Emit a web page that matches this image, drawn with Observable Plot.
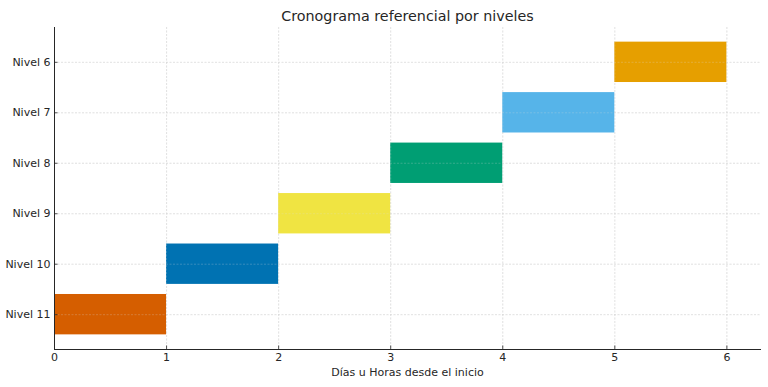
<!DOCTYPE html>
<html>
<head>
<meta charset="utf-8">
<script src="https://cdn.jsdelivr.net/npm/d3@7"></script>
<script src="https://cdn.jsdelivr.net/npm/@observablehq/plot@0.6"></script>
<style>
  html, body { margin: 0; padding: 0; background: #fff; }
  svg { font-family: "DejaVu Sans", sans-serif; }
</style>
</head>
<body>
<div id="chart"></div>
<script>
const title = "Cronograma referencial por niveles";
const xLabel = "Días u Horas desde el inicio";
const levels = ["Nivel 11", "Nivel 10", "Nivel 9", "Nivel 8", "Nivel 7", "Nivel 6"];
const starts = [0, 1, 2, 3, 4, 5];
const durations = [1, 1, 1, 1, 1, 1];
const colors = ["#D55E00", "#0072B2", "#F0E442", "#009E73", "#56B4E9", "#E69F00"];
const xTicks = [0, 1, 2, 3, 4, 5, 6];

const data = levels.map((l, i) => ({level: l, start: starts[i], end: starts[i] + durations[i], color: colors[i]}));
const yOrder = levels.slice().reverse();

const W = 768, H = 387, mL = 54, mR = 8, mT = 27, mB = 38;
const plotW = W - mL - mR, plotH = H - mT - mB;

const gridStyle = {stroke: "#c8c8c8", strokeOpacity: 0.7, strokeDasharray: "2,1.5", strokeWidth: 0.7};
const gridTop = {stroke: "#e0e0e0", strokeOpacity: 0.35, strokeDasharray: "2,1.5", strokeWidth: 0.7};

const chart = Plot.plot({
  width: W,
  height: H,
  marginLeft: mL,
  marginRight: mR,
  marginTop: mT,
  marginBottom: mB,
  style: {fontFamily: "DejaVu Sans, sans-serif", fontSize: "11px", color: "#262626", background: "#fff"},
  x: {domain: [0, 6.3], label: null},
  y: {domain: yOrder, paddingInner: 0.2, paddingOuter: 0.29, align: 0.5, round: false, label: null},
  marks: [
    Plot.gridX(xTicks, gridStyle),
    Plot.gridY(yOrder, gridStyle),
    Plot.barX(data, {x1: "start", x2: "end", y: "level", fill: "color"}),
    Plot.gridX(xTicks, gridTop),
    Plot.gridY(yOrder, gridTop),
    Plot.axisX({ticks: xTicks, tickFormat: "d", tickSize: 0, tickPadding: 4, label: null, fontSize: 11, color: "#262626"}),
    Plot.axisY({tickSize: 0, tickPadding: 4, label: null, fontSize: 11, color: "#262626"}),
    Plot.tickX(xTicks, {x: d => d, insetTop: plotH - 3.5, stroke: "#262626", strokeWidth: 0.8}),
    Plot.tickY(yOrder, {y: d => d, insetRight: plotW - 3.5, stroke: "#262626", strokeWidth: 0.8}),
    Plot.frame({anchor: "left", stroke: "#262626", strokeWidth: 1}),
    Plot.frame({anchor: "bottom", stroke: "#262626", strokeWidth: 1}),
    Plot.text([xLabel], {frameAnchor: "bottom", dy: 26, fontSize: 11, fill: "#262626"}),
    Plot.text([title], {frameAnchor: "top", dy: -17, fontSize: 14.3, fill: "#262626"})
  ]
});
document.getElementById("chart").appendChild(chart);
</script>
</body>
</html>
